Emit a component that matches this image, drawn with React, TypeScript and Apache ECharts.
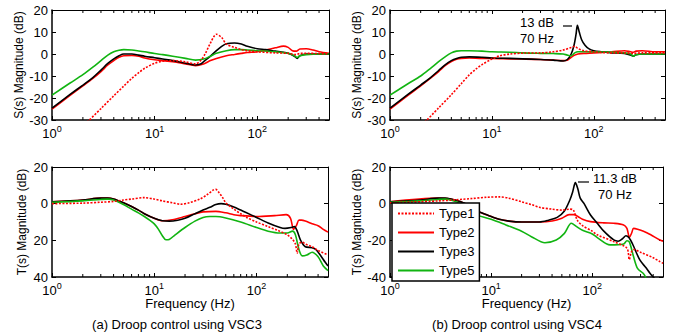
import React, { useEffect, useRef } from 'react';
import * as echarts from 'echarts';

const FONT = '"Liberation Sans", Arial, Helvetica, sans-serif';

const seriesNames = ['Type1', 'Type2', 'Type3', 'Type5'];
const minorTicks = [2, 3, 4, 5, 6, 7, 8, 9, 20, 30, 40, 50, 60, 70, 80, 90, 200, 300, 400];

// ---------- (a) S(s), VSC3 ----------
const sA1f = [2.2, 3, 4, 5, 6, 7, 8, 10, 12, 15, 20, 25, 28, 31, 35, 40, 45, 50, 60, 70, 80, 100, 150, 200, 240, 260, 300, 400, 500];
const sA1v = [-31, -24.8, -19, -14.6, -11, -8.5, -6.5, -4.2, -3.3, -3, -3.6, -4.5, -3, 0, 5, 9, 7.5, 4.5, 3, 2, 1.5, 1, 0.5, 0.3, -0.3, 0.3, 0.3, 0.2, 0];
const sA2f = [1, 1.5, 2, 2.5, 3, 3.5, 4, 4.5, 5, 6, 7, 8, 10, 12, 15, 20, 25, 30, 35, 40, 50, 60, 70, 80, 100, 120, 150, 180, 200, 220, 240, 260, 300, 350, 400, 500];
const sA2v = [-25, -18.8, -14.5, -11.1, -8, -5, -3, -1.5, -0.8, -0.7, -1, -1.8, -2.6, -3, -3.5, -4.5, -5.3, -4.5, -3, -2, -0.8, -0.2, 0.3, 0.7, 1, 1.8, 2.8, 3.6, 3, 1.5, 1.3, 2.3, 2.4, 1.8, 1, 0.3];
const sA3f = [1, 1.5, 2, 2.5, 3, 3.5, 4, 4.5, 5, 6, 7, 8, 10, 12, 15, 20, 25, 28, 30, 35, 40, 45, 50, 60, 70, 80, 100, 120, 150, 180, 200, 230, 245, 260, 300, 400, 500];
const sA3v = [-24.6, -18.4, -14.1, -10.7, -7.3, -4.3, -2.2, -0.8, 0, 0, -0.5, -1, -1.7, -2.3, -3, -4.2, -5, -4.5, -3.5, -1, 1.5, 3.5, 4.7, 5, 4.5, 3.5, 2.4, 2, 1.3, 0.8, 0.3, -1, -2, -0.8, 0, 0, 0];
const sA5f = [1, 1.5, 2, 2.5, 3, 3.5, 4, 4.5, 5, 6, 7, 8, 10, 12, 15, 20, 25, 30, 35, 40, 50, 60, 70, 80, 100, 150, 200, 230, 245, 260, 300, 400, 500];
const sA5v = [-18.7, -13.2, -9.4, -6, -3, -0.5, 1, 1.7, 2, 1.8, 1.4, 1, 0.2, -0.3, -1, -2, -2.8, -2.3, -1, 0.3, 1.5, 2, 2, 1.8, 1.5, 1, 0.3, -0.8, -1.6, -0.8, -0.3, 0, 0];

// ---------- (b) S(s), VSC4 ----------
const sB1f = [2.2, 3, 4, 5, 6, 7, 8, 10, 12, 15, 20, 30, 40, 50, 60, 65, 70, 80, 100, 150, 200, 245, 300, 500];
const sB1v = [-31, -24.5, -18.5, -13.5, -9.5, -6.8, -4.8, -2.3, -0.8, 0, 0.4, 0.5, 1, 1.8, 3, 3.5, 2.5, 1.5, 1, 0.5, 0.5, 0.3, 0.5, 0.5];
const sB2f = [1, 1.5, 2, 2.5, 3, 3.5, 4, 4.5, 5, 6, 8, 10, 15, 20, 30, 40, 50, 55, 60, 65, 70, 80, 100, 150, 200, 230, 245, 260, 300, 400, 500];
const sB2v = [-25, -18.8, -14.5, -11, -8, -5.2, -3.4, -2.4, -2, -1.8, -2, -2, -2.2, -2.3, -2.5, -2.8, -3, -2.8, -1.5, -0.5, 0, 0.3, 0.5, 1, 1.5, 1, 0.8, 1.3, 1.5, 1, 1];
const sB3f = [1, 1.5, 2, 2.5, 3, 3.5, 4, 4.5, 5, 6, 8, 10, 15, 20, 30, 40, 50, 55, 60, 64, 67, 69, 72, 76, 82, 90, 100, 120, 150, 200, 230, 245, 260, 300, 400, 500];
const sB3v = [-24.6, -18.4, -14.1, -10.7, -7.5, -4.8, -3, -2, -1.5, -1.3, -1.5, -1.8, -2, -2.2, -2.5, -2.8, -3.2, -2.5, 0, 4, 9, 13, 10, 6.5, 4, 2.3, 1.5, 1, 0.5, 0.3, -0.5, -1, -0.3, 0, 0, 0];
const sB5f = [1, 1.5, 2, 2.5, 3, 3.5, 4, 4.5, 5, 6, 8, 10, 15, 20, 30, 40, 50, 55, 60, 65, 70, 80, 100, 150, 200, 230, 245, 260, 300, 500];
const sB5v = [-18.7, -13.5, -10, -6.5, -3.5, -1.2, 0.5, 1.3, 1.5, 1.5, 1.3, 1, 0.8, 0.5, 0.3, 0.2, 0, -0.5, -0.8, 0.5, 1, 1, 1, 0.8, 0.5, 0, -1, -0.3, 0, 0];

// ---------- (a) T(s), VSC3 ----------
const tA1f = [1, 2, 3, 4, 5, 6, 8, 10, 12, 15, 18, 22, 28, 33, 38, 40, 43, 47, 50, 60, 70, 80, 100, 130, 160, 200, 225, 240, 250, 260, 280, 300, 350, 400, 500];
const tA1v = [0, 0.3, 0.8, 1.2, 2, 2.5, 3.3, 2.5, 1.5, 0.5, -0.3, 0.5, 2.5, 5, 7.5, 7.8, 6, 3, 0.5, -3, -5.5, -7.5, -10, -12.5, -14.5, -17, -19.5, -22, -27, -22, -21, -22, -23.5, -25.5, -28];
const tA2f = [1, 2, 3, 3.5, 4, 5, 6, 7, 8, 10, 12, 15, 20, 25, 30, 40, 50, 60, 70, 100, 150, 195, 215, 230, 245, 260, 275, 300, 350, 400, 450, 500];
const tA2v = [1, 2, 3, 3, 2.5, 0.5, -1.5, -3.5, -5.5, -8, -9.3, -8.8, -7, -5.5, -4.5, -4.2, -5, -6, -6.5, -7, -6.5, -6, -8, -14, -12, -9, -9, -9.5, -11, -12, -14, -15.5];
const tA3f = [1, 2, 3, 3.5, 4, 5, 6, 7, 8, 10, 12, 14, 17, 20, 25, 30, 35, 40, 45, 50, 60, 70, 80, 100, 130, 170, 190, 220, 235, 250, 270, 300, 350, 380, 420, 470, 500];
const tA3v = [1, 2, 3, 3, 2.5, 0.5, -1.5, -3.5, -5.5, -8, -9.3, -9.5, -9, -8, -5.5, -3.5, -2, -0.5, 0, -0.3, -1.8, -3.5, -5, -7.5, -10.5, -13, -13.5, -13, -12.5, -15, -20, -23.5, -24, -25, -28, -32, -34];
const tA5f = [1, 2, 3, 3.5, 4, 5, 6, 7, 8, 9, 10, 11, 12, 13, 14, 16, 20, 25, 30, 35, 40, 50, 70, 100, 130, 170, 200, 225, 240, 260, 280, 310, 350, 400, 450, 500];
const tA5v = [0.7, 1.5, 2.3, 2.5, 2, -0.5, -3, -5, -7, -9, -11, -14, -17.5, -19.7, -19.5, -17, -13, -9.5, -7.5, -7, -7, -7.8, -10, -13, -15, -16, -16, -15, -17, -25, -28.5, -28, -26.5, -29, -34, -36.5];

// ---------- (b) T(s), VSC4 ----------
const tB1f = [1, 3, 6.5, 9, 12, 15, 20, 25, 30, 40, 50, 60, 65, 71, 80, 100, 112, 163, 220, 232, 245, 260, 300, 400, 466, 500];
const tB1v = [0.5, 1.5, 2.8, 3.5, 3.7, 3, 1, -0.5, -2, -3, -3.5, -3, -3.5, -9, -12, -15, -17, -20.7, -24.3, -30.5, -26, -25, -26.5, -29.5, -31.6, -32.5];
const tB2f = [1, 3, 4, 5, 6, 7, 8, 10, 12, 15, 20, 30, 40, 50, 59, 66, 72, 80, 96, 130, 163, 204, 220, 233, 245, 256, 280, 350, 466, 500];
const tB2v = [1, 3, 2.5, 1, -1, -3.5, -5, -7, -8.5, -9.5, -10, -10, -9.5, -8, -6, -6, -7, -8.5, -9.8, -10.5, -10.7, -11.6, -13.5, -18.4, -16, -13.5, -14, -16, -19.8, -20.5];
const tB3f = [1, 2, 3, 3.5, 4, 5, 6, 7.1, 8, 10, 12, 15, 20, 30, 37, 45, 53, 60, 64, 68, 72, 76, 83, 96, 112, 130, 163, 180, 200, 215, 230, 250, 295, 340, 370, 400, 430];
const tB3v = [1, 2, 3, 3, 2.5, 1, -1, -3.5, -5, -7, -8.5, -9.5, -10, -10, -9, -7.5, -4, 2, 6.5, 11.5, 8, 3, 0, -6.2, -10.7, -15, -19.8, -20.5, -19, -17.5, -18.5, -22, -30.7, -35, -37.8, -40, -42];
const tB5f = [1, 2, 3, 3.5, 4, 5, 6.5, 10, 14, 20, 25, 34, 44, 53, 62, 70, 80, 100, 112, 150, 204, 220, 233, 256, 280, 318, 340];
const tB5v = [0.7, 1.5, 2.3, 2.5, 2, 0, -5.3, -8.5, -11.6, -15, -18, -21.3, -19.8, -16.2, -10.7, -12.5, -14.5, -16.5, -18.5, -22.5, -22, -20.2, -21, -29, -35.3, -38, -40.5];

const panelCurves = [
  [[sA1f, sA1v], [sA2f, sA2v], [sA3f, sA3v], [sA5f, sA5v]],
  [[sB1f, sB1v], [sB2f, sB2v], [sB3f, sB3v], [sB5f, sB5v]],
  [[tA1f, tA1v], [tA2f, tA2v], [tA3f, tA3v], [tA5f, tA5v]],
  [[tB1f, tB1v], [tB2f, tB2v], [tB3f, tB3v], [tB5f, tB5v]],
];

const yRanges = [[-30, 20, 10], [-30, 20, 10], [-40, 20, 20], [-40, 20, 20]];
const yNames = ['S(s) Magnitude (dB)', 'S(s) Magnitude (dB)', 'T(s) Magnitude (dB)', 'T(s) Magnitude (dB)'];
const captions = ['(a) Droop control using VSC3', '(b) Droop control using VSC4'];

const grids = [
  { left: 52, top: 10, width: 277, height: 110 },
  { left: 390, top: 10, width: 275, height: 110 },
  { left: 52, top: 167, width: 276, height: 110 },
  { left: 390, top: 167, width: 273, height: 110 },
];

const colors = ['#ff0000', '#ff0000', '#000000', '#11b411'];

function pairs(f: number[], v: number[]) {
  return f.map((x, i) => [x, v[i]]);
}

function buildOption() {
  const xAxis: any[] = [];
  const yAxis: any[] = [];
  const series: any[] = [];
  grids.forEach((_, i) => {
    const [ymin, ymax, step] = yRanges[i];
    const common = {
      type: 'log',
      logBase: 10,
      min: 1,
      max: 500,
      gridIndex: i,
      splitLine: { show: false },
      axisTick: { show: true, inside: true, length: 4, lineStyle: { color: '#000', width: 1 } },
    };
    xAxis.push({
      ...common,
      position: 'bottom',
      axisLine: { show: true, onZero: false, lineStyle: { color: '#000', width: 1.5 } },
      name: i >= 2 ? 'Frequency (Hz)' : '',
      nameLocation: 'middle',
      nameGap: 20,
      nameTextStyle: { fontSize: 13, fontFamily: FONT, color: '#000' },
      axisLabel: {
        margin: 4,
        color: '#000',
        fontFamily: FONT,
        formatter: (v: number) => {
          const l = Math.log10(v);
          if (Math.abs(l - Math.round(l)) < 1e-6) return `{a|10}{b|${Math.round(l)}}`;
          return '';
        },
        rich: {
          a: { fontSize: 13, fontFamily: FONT, color: '#000', lineHeight: 18 },
          b: { fontSize: 9, fontFamily: FONT, color: '#000', verticalAlign: 'top', lineHeight: 10 },
        },
      },
    });
    xAxis.push({
      ...common,
      position: 'top',
      axisLine: { show: true, onZero: false, lineStyle: { color: '#000', width: 1.2 } },
      axisLabel: { show: false },
    });
    const ycommon = {
      type: 'value',
      min: ymin,
      max: ymax,
      interval: step,
      gridIndex: i,
      splitLine: { show: false },
      axisTick: { show: true, inside: true, length: 4, lineStyle: { color: '#000', width: 1 } },
    };
    yAxis.push({
      ...ycommon,
      position: 'left',
      axisLine: { show: true, onZero: false, lineStyle: { color: '#000', width: 1.5 } },
      name: yNames[i],
      nameLocation: 'middle',
      nameRotate: 90,
      nameGap: i % 2 === 0 ? 24 : 21,
      nameTextStyle: { fontSize: 12, fontFamily: FONT, color: '#000' },
      axisLabel: {
        margin: 4,
        fontSize: 13,
        fontFamily: FONT,
        color: '#000',
        formatter: i === 2 ? (v: number) => String(Math.abs(v)) : (v: number) => String(v),
      },
    });
    yAxis.push({
      ...ycommon,
      position: 'right',
      axisLine: { show: true, onZero: false, lineStyle: { color: '#000', width: 1 } },
      axisLabel: { show: false },
    });

    panelCurves[i].forEach(([f, v], k) => {
      series.push({
        type: 'line',
        name: seriesNames[k],
        xAxisIndex: 2 * i,
        yAxisIndex: 2 * i,
        data: pairs(f as number[], v as number[]),
        symbol: 'none',
        smooth: 0.3,
        clip: true,
        z: k === 0 ? 5 : 3 + k * 0.1,
        lineStyle: { color: colors[k], width: 1.6, type: k === 0 ? [2, 1.5] : 'solid' },
        itemStyle: { color: colors[k] },
      });
    });

    series.push({
      type: 'custom',
      xAxisIndex: 2 * i,
      yAxisIndex: 2 * i,
      silent: true,
      data: minorTicks.map((f) => [f, ymin]),
      renderItem: (params: any, api: any) => {
        const f = api.value(0);
        const b = api.coord([f, ymin]);
        const t = api.coord([f, ymax]);
        return {
          type: 'group',
          children: [
            { type: 'line', shape: { x1: b[0], y1: b[1], x2: b[0], y2: b[1] - 3 }, style: { stroke: '#000', lineWidth: 1 } },
            { type: 'line', shape: { x1: t[0], y1: t[1], x2: t[0], y2: t[1] + 3 }, style: { stroke: '#000', lineWidth: 1 } },
          ],
        };
      },
    });
  });

  const txt = (x: number, y: number, text: string, size = 13) => ({
    type: 'text',
    x,
    y,
    style: { text, fill: '#000', font: `${size}px ${FONT}`, textAlign: 'center', textVerticalAlign: 'middle' },
    z: 10,
  });

  return {
    animation: false,
    backgroundColor: '#fff',
    grid: grids.map((g) => ({ ...g, containLabel: false })),
    xAxis,
    yAxis,
    series,
    legend: {
      data: seriesNames,
      orient: 'vertical',
      left: 392,
      top: 203,
      itemWidth: 36,
      itemHeight: 12,
      itemGap: 6,
      padding: [4, 5, 4, 5],
      backgroundColor: '#fff',
      borderColor: '#000',
      borderWidth: 1.5,
      selectedMode: false,
      itemStyle: { opacity: 0 },
      textStyle: { fontSize: 13, fontFamily: FONT, color: '#000' },
      z: 20,
    },
    graphic: [
      txt(537, 22, '13 dB'),
      txt(537, 38, '70 Hz'),
      { type: 'line', shape: { x1: 563, y1: 26, x2: 572, y2: 26 }, style: { stroke: '#000', lineWidth: 1.2 }, z: 10 },
      txt(615, 178, '11.3 dB'),
      txt(615, 194, '70 Hz'),
      { type: 'line', shape: { x1: 578, y1: 182, x2: 589, y2: 182 }, style: { stroke: '#000', lineWidth: 1.2 }, z: 10 },
      txt(177, 324, captions[0], 13),
      txt(517, 324, captions[1], 13),
    ],
  };
}

export default function App() {
  const ref = useRef<HTMLDivElement>(null);
  useEffect(() => {
    if (!ref.current) return;
    const chart = echarts.init(ref.current, undefined, { renderer: 'svg' });
    chart.setOption(buildOption() as any);
    return () => chart.dispose();
  }, []);
  return <div ref={ref} style={{ position: 'fixed', left: 0, top: 0, width: 682, height: 335, background: '#fff' }} />;
}
